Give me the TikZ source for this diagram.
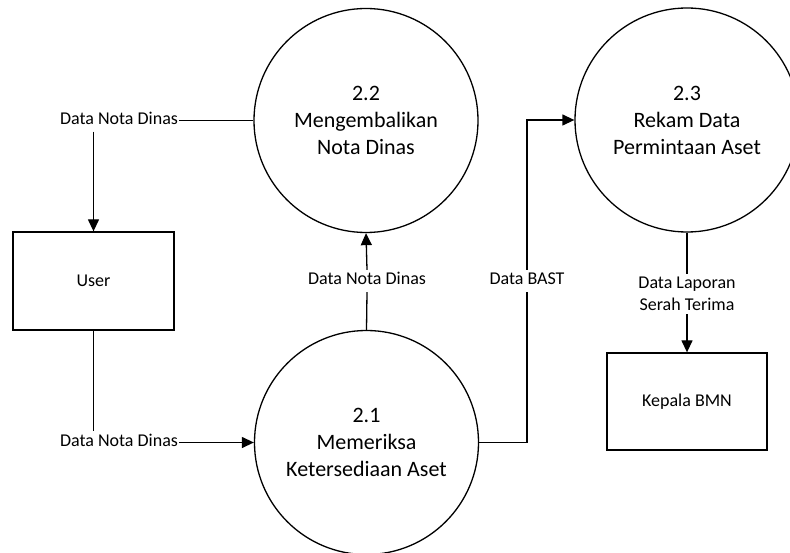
\documentclass[tikz,border=0pt]{standalone}
\usepackage{fontspec}
\setmainfont{Carlito}
\usetikzlibrary{arrows.meta}

\tikzset{
  flow/.style={line width=1.3pt, draw=black},
  arrowflow/.style={flow, -{Triangle[length=12pt,width=11pt]}},
  process/.style={circle, draw=black, line width=1.3pt, minimum size=224pt,
    inner sep=0pt, align=center, font=\fontsize{22}{27}\selectfont},
  entity/.style={rectangle, draw=black, line width=1.3pt, minimum width=160pt,
    minimum height=97pt, font=\fontsize{18}{22}\selectfont},
  flowlabel/.style={inner xsep=1pt, inner ysep=3pt,
    text height=12pt, text depth=4pt, font=\fontsize{18}{22}\selectfont},
  flowlabeltwo/.style={inner xsep=1pt, inner ysep=3pt, align=center,
    font=\fontsize{18}{22}\selectfont},
}

\begin{document}
\begin{tikzpicture}[x=1pt, y=-1pt]
  \useasboundingbox (0,0) rectangle (790,553);

  % processes
  \node[process] (p22) at (366,120.5) {2.2\\Mengembalikan\\Nota Dinas};
  \node[process] (p21) at (366.5,442.5) {2.1\\Memeriksa\\Ketersediaan Aset};
  \node[process] (p23) at (687,120) {2.3\\Rekam Data\\Permintaan Aset};

  % external entities
  \node[entity, minimum width=161pt, minimum height=98pt] (user) at (93.5,281) {User};
  \node[entity] (kepala) at (687,401.5) {Kepala BMN};

  % flow labels
  \node[flowlabel] (lret) at (119,120.5) {Data Nota Dinas};
  \node[flowlabel] (lin) at (119,442.5) {Data Nota Dinas};
  \node[flowlabel] (lmid) at (367,281) {Data Nota Dinas};
  \node[flowlabel] (lbast) at (527,281) {Data BAST};
  \node[flowlabeltwo] (lrep) at (687,294) {Data Laporan\\Serah Terima};

  % 2.2 returns the note to the user
  \draw[flow] (p22.west) -- (lret.east);
  \draw[arrowflow] (lret.south -| user.north) -- (user.north);

  % user submits the note to 2.1
  \draw[flow] (user.south) -- (lin.north -| user.south);
  \draw[arrowflow] (lin.east) -- (p21.west);

  % 2.1 passes the note to 2.2
  \draw[flow] (p21.north) -- (lmid.south);
  \draw[arrowflow] (lmid.north) -- (p22.south);

  % 2.1 passes the BAST data to 2.3
  \draw[flow] (p21.east) -| (lbast.south);
  \draw[arrowflow] (lbast.north) |- (p23.west);

  % 2.3 reports to Kepala BMN
  \draw[flow] (p23.south) -- (lrep.north);
  \draw[arrowflow] (lrep.south) -- (kepala.north);
\end{tikzpicture}
\end{document}
